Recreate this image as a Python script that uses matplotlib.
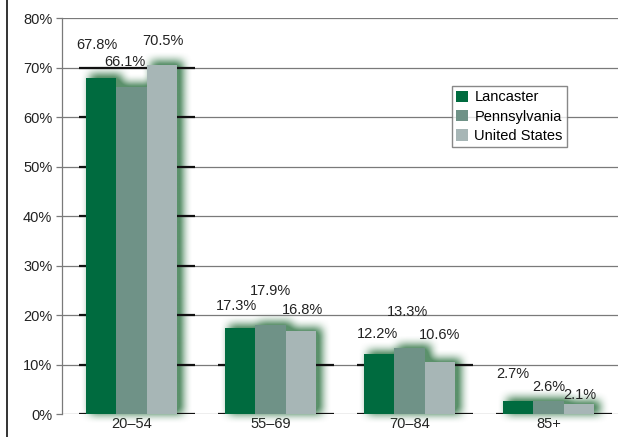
import matplotlib
matplotlib.use("Agg")
import matplotlib.pyplot as plt
from matplotlib.lines import Line2D
from matplotlib.colors import to_rgb
import numpy as np

plt.rcParams['font.family'] = ['Liberation Sans', 'DejaVu Sans']

categories = ["20\u201354", "55\u201369", "70\u201384", "85+"]
series_names = ["Lancaster", "Pennsylvania", "United States"]
lancaster = [67.8, 17.3, 12.2, 2.7]
pennsylvania = [66.1, 17.9, 13.3, 2.6]
united_states = [70.5, 16.8, 10.6, 2.1]
y_ticks = [0, 10, 20, 30, 40, 50, 60, 70, 80]

colors = ["#006b3f", "#6f9287", "#a7b6b6"]
glow_color = "#3d7d50"

# label offsets in points (dx, dy above bar top) to keep labels from colliding
label_dy = [[24, 18, 17], [16, 25, 15], [14, 26, 19], [19.5, 10.5, 6.5]]
label_dx = [[-3, -4.5, 1], [-3, 0, 1], [-1, -1.5, 0], [-3.5, 0, 1]]

FS = 10.5

fig = plt.figure(figsize=(6.28, 4.37), dpi=100)
ax = fig.add_axes([0.0987, 0.0526, 0.8853, 0.9062])
x_lo, x_hi, y_lo, y_hi = -0.5, 3.5, 0, 80
ax.set_xlim(x_lo, x_hi)
ax.set_ylim(y_lo, y_hi)

ax_w_px = int(round(0.8853 * 628))
ax_h_px = int(round(0.9062 * 437))
px_x = (x_hi - x_lo) / ax_w_px
px_y = (y_hi - y_lo) / ax_h_px

data = [lancaster, pennsylvania, united_states]
x = np.arange(len(categories))
width = 0.218
offsets = [-width, 0, width]

# gridlines
for t in y_ticks:
    ax.axhline(t, color="#7a7a7a", lw=0.9, zorder=2.5)

# darker gridline segments behind each group
for i in range(len(categories)):
    top = max(d[i] for d in data)
    left = x[i] - 1.5 * width - 7 * px_x
    right = x[i] + 1.5 * width + 18 * px_x
    for t in y_ticks:
        if t < top:
            ax.plot([left, right], [t, t], color="#111111", lw=1.6, zorder=2.6,
                     solid_capstyle="butt")

# soft green glow: blurred silhouette of the bars, nudged right and up,
# spilling a few pixels below the baseline
below = 10
H = ax_h_px + below
mask = np.zeros((H, ax_w_px))
shift_x, shift_y = 5, 3
for i in range(len(categories)):
    for j, d in enumerate(data):
        x0 = x[i] + offsets[j] - width / 2
        c0 = int(round((x0 - x_lo) / px_x)) + shift_x - 1
        c1 = int(round((x0 + width - x_lo) / px_x)) + shift_x + 1
        r1 = int(round(d[i] / px_y)) + shift_y + below
        mask[below:max(r1, below), max(c0, 0):min(c1, ax_w_px)] = 1.0


def box_blur(a, r):
    k = np.ones(2 * r + 1) / (2 * r + 1)
    a = np.apply_along_axis(lambda v: np.convolve(v, k, mode="same"), 0, a)
    a = np.apply_along_axis(lambda v: np.convolve(v, k, mode="same"), 1, a)
    return a


glow = box_blur(box_blur(mask, 5), 4)
glow = np.clip(glow * 1.3, 0, 1) * 0.85
rgba = np.zeros((H, ax_w_px, 4))
rgba[..., :3] = to_rgb(glow_color)
rgba[..., 3] = glow
img = ax.imshow(rgba, extent=(x_lo, x_hi, y_lo - below * px_y, y_hi),
                origin="lower", aspect="auto", zorder=2,
                interpolation="bilinear")
img.set_clip_on(False)
ax.set_xlim(x_lo, x_hi)
ax.set_ylim(y_lo, y_hi)

# bars
for j, d in enumerate(data):
    ax.bar(x + offsets[j], d, width, color=colors[j], zorder=3,
           label=series_names[j], linewidth=0)
    for i, v in enumerate(d):
        ax.annotate(f"{v:.1f}%", (x[i] + offsets[j], v),
                    xytext=(label_dx[i][j], label_dy[i][j]),
                    textcoords="offset points", ha="center", va="center",
                    fontsize=FS, color="#222222", zorder=5)

ax.set_yticks(y_ticks)
ax.set_yticklabels([f"{t}%" for t in y_ticks], fontsize=FS, color="#222222")
ax.set_xticks(x)
ax.set_xticklabels(categories, fontsize=FS, color="#222222")
ax.tick_params(axis="y", length=4, color="#7a7a7a", width=0.9, pad=3)
ax.tick_params(axis="x", length=0, pad=2)

for s in ["top", "right", "bottom"]:
    ax.spines[s].set_visible(False)
ax.spines["left"].set_color("#7a7a7a")
ax.spines["left"].set_linewidth(0.9)

leg = ax.legend(loc="upper left", bbox_to_anchor=(0.701, 0.828), fontsize=FS,
                frameon=True, fancybox=False, handlelength=0.8, handleheight=0.8,
                handletextpad=0.45, borderpad=0.3, labelspacing=0.36,
                borderaxespad=0)
leg.get_frame().set_edgecolor("#6a6a6a")
leg.get_frame().set_linewidth(1.0)
leg.set_zorder(6)

# page border line at the left edge
fig.add_artist(Line2D([7 / 628, 7 / 628], [0, 1], color="#111111", lw=1.2,
                      transform=fig.transFigure))

fig.savefig("out.png", dpi=100)
